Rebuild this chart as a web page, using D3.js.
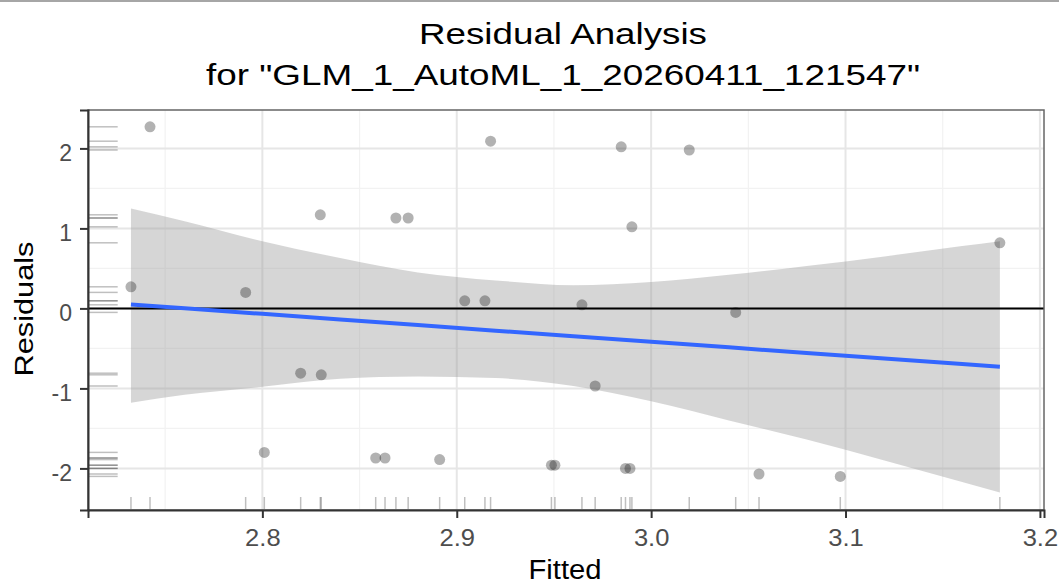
<!DOCTYPE html>
<html>
<head>
<meta charset="utf-8">
<script src="https://cdn.jsdelivr.net/npm/d3@7"></script>
<style>
  html, body { margin: 0; padding: 0; background: #ffffff; }
  svg { display: block; font-family: "Liberation Sans", Arial, sans-serif; }
</style>
</head>
<body>
<svg id="chart" width="1059" height="586"></svg>
<script>
// ---- data ----
const fitted = [2.7324, 2.7422, 2.7914, 2.8010, 2.8197, 2.8298, 2.8303, 2.8583, 2.8631, 2.8687,
                2.8750, 2.8912, 2.9041, 2.9145, 2.9174, 2.9487, 2.9505, 2.9644, 2.9712, 2.9846,
                2.9868, 2.9891, 2.9901, 3.0196, 3.0435, 3.0555, 3.0973, 3.1794];
const residuals = [0.27, 2.27, 0.20, -1.80, -0.81, 1.17, -0.83, -1.87, -1.87, 1.13,
                   1.13, -1.89, 0.095, 0.095, 2.09, -1.96, -1.96, 0.045, -0.97, 2.02,
                   -2.00, -2.00, 1.02, 1.98, -0.05, -2.07, -2.10, 0.82];

// linear smoother with confidence band
const bandX    = [2.7324, 2.76, 2.80, 2.84, 2.88, 2.92, 2.96, 3.00, 3.04, 3.08, 3.12, 3.16, 3.1794];
const bandFit  = [0.05, 0.002, -0.068, -0.138, -0.208, -0.278, -0.347, -0.417, -0.487, -0.557, -0.627, -0.696, -0.73];
const bandLow  = [-1.18, -1.08, -0.98, -0.88, -0.85, -0.87, -0.97, -1.16, -1.40, -1.64, -1.90, -2.17, -2.30];
const bandHigh = [1.25, 1.09, 0.84, 0.63, 0.45, 0.35, 0.29, 0.33, 0.42, 0.53, 0.65, 0.78, 0.84];

const xTicks = [2.8, 2.9, 3.0, 3.1, 3.2];
const xTickLabels = ["2.8", "2.9", "3.0", "3.1", "3.2"];
const xMinor = [2.75, 2.85, 2.95, 3.05, 3.15];
const yTicks = [-2, -1, 0, 1, 2];
const yTickLabels = ["-2", "-1", "0", "1", "2"];
const yMinor = [-1.5, -0.5, 0.5, 1.5];

const titleLines = ["Residual Analysis", "for \"GLM_1_AutoML_1_20260411_121547\""];
const xTitle = "Fitted";
const yTitle = "Residuals";

// ---- layout ----
const svg = d3.select("#chart");
const P = { left: 88, right: 1044, top: 110, bottom: 510 };

const x = d3.scaleLinear().domain([2.7103, 3.2021]).range([P.left, P.right]);
const y = d3.scaleLinear().domain([-2.52, 2.48]).range([P.bottom, P.top]);

svg.append("rect").attr("width", 1059).attr("height", 586).attr("fill", "#ffffff");
// top separator line
svg.append("line").attr("x1", 0).attr("x2", 1059).attr("y1", 1).attr("y2", 1)
  .attr("stroke", "#a6a6a6").attr("stroke-width", 2);

// title
const titleY = [43.5, 85];
const titleLen = [288, 714];
titleLines.forEach((t, i) => {
  svg.append("text").attr("x", 563).attr("y", titleY[i])
    .attr("text-anchor", "middle").attr("font-size", 29).attr("fill", "#000")
    .attr("textLength", titleLen[i]).attr("lengthAdjust", "spacingAndGlyphs")
    .text(t);
});

const g = svg.append("g");

// grid
g.selectAll(".xminor").data(xMinor).join("line")
  .attr("x1", d => x(d)).attr("x2", d => x(d)).attr("y1", P.top).attr("y2", P.bottom)
  .attr("stroke", "#f2f2f2").attr("stroke-width", 1.2);
g.selectAll(".yminor").data(yMinor).join("line")
  .attr("y1", d => y(d)).attr("y2", d => y(d)).attr("x1", P.left).attr("x2", P.right)
  .attr("stroke", "#f2f2f2").attr("stroke-width", 1.2);
g.selectAll(".xmajor").data(xTicks).join("line")
  .attr("x1", d => x(d)).attr("x2", d => x(d)).attr("y1", P.top).attr("y2", P.bottom)
  .attr("stroke", "#e6e6e6").attr("stroke-width", 2);
g.selectAll(".ymajor").data(yTicks).join("line")
  .attr("y1", d => y(d)).attr("y2", d => y(d)).attr("x1", P.left).attr("x2", P.right)
  .attr("stroke", "#e6e6e6").attr("stroke-width", 2);

// confidence band
const bandData = bandX.map((v, i) => ({ x: v, lo: bandLow[i], hi: bandHigh[i], fit: bandFit[i] }));
g.append("path").datum(bandData)
  .attr("d", d3.area().x(d => x(d.x)).y0(d => y(d.lo)).y1(d => y(d.hi)).curve(d3.curveMonotoneX))
  .attr("fill", "#999999").attr("fill-opacity", 0.4);

// zero line
g.append("line").attr("x1", P.left).attr("x2", P.right).attr("y1", y(0)).attr("y2", y(0))
  .attr("stroke", "#000").attr("stroke-width", 2);

// smoother line
g.append("path").datum(bandData)
  .attr("d", d3.line().x(d => x(d.x)).y(d => y(d.fit)))
  .attr("fill", "none").attr("stroke", "#3366FF").attr("stroke-width", 4);

// rugs
const pts = fitted.map((f, i) => ({ f, r: residuals[i] }));
const rugLenX = 0.03 * (P.right - P.left);
const rugLenY = 0.03 * (P.bottom - P.top);
g.selectAll(".rugy").data(pts).join("line")
  .attr("x1", P.left + 1).attr("x2", P.left + 1 + rugLenX)
  .attr("y1", d => y(d.r)).attr("y2", d => y(d.r))
  .attr("stroke", "#000").attr("stroke-opacity", 0.25).attr("stroke-width", 1.5);
g.selectAll(".rugx").data(pts).join("line")
  .attr("x1", d => x(d.f)).attr("x2", d => x(d.f))
  .attr("y1", P.bottom - 1).attr("y2", P.bottom - 1 - rugLenY)
  .attr("stroke", "#000").attr("stroke-opacity", 0.25).attr("stroke-width", 1.5);

// points
g.selectAll(".pt").data(pts).join("circle")
  .attr("cx", d => x(d.f)).attr("cy", d => y(d.r)).attr("r", 5.5)
  .attr("fill", "#000").attr("fill-opacity", 0.3);

// panel border
g.append("rect").attr("x", P.left).attr("y", P.top)
  .attr("width", P.right - P.left).attr("height", P.bottom - P.top)
  .attr("fill", "none").attr("stroke", "#666").attr("stroke-width", 1.5);

// axes
const yAxis = d3.axisLeft(y).tickValues(yTicks).tickFormat((d, i) => yTickLabels[i])
  .tickSize(8).tickPadding(8);
const gy = svg.append("g").attr("transform", `translate(${P.left},0)`).call(yAxis);
gy.select(".domain").attr("stroke", "#333").attr("stroke-width", 2);
gy.selectAll(".tick line").attr("stroke", "#333").attr("stroke-width", 2);
gy.selectAll(".tick text").attr("font-size", 23).attr("fill", "#4d4d4d")
  .attr("font-family", "Liberation Sans, Arial, sans-serif").attr("dy", "0.52em");

const xAxis = d3.axisBottom(x).tickValues(xTicks).tickFormat((d, i) => xTickLabels[i])
  .tickSize(8).tickPadding(11.5);
const gx = svg.append("g").attr("transform", `translate(0,${P.bottom})`).call(xAxis);
gx.select(".domain").attr("stroke", "#333").attr("stroke-width", 2);
gx.selectAll(".tick line").attr("stroke", "#333").attr("stroke-width", 2);
gx.selectAll(".tick text").attr("font-size", 23).attr("fill", "#4d4d4d")
  .attr("font-family", "Liberation Sans, Arial, sans-serif")
  .attr("textLength", 35.5).attr("lengthAdjust", "spacingAndGlyphs");

// axis titles
svg.append("text").attr("x", 565).attr("y", 579).attr("text-anchor", "middle")
  .attr("font-size", 27).attr("fill", "#000")
  .attr("textLength", 73).attr("lengthAdjust", "spacingAndGlyphs").text(xTitle);
svg.append("text").attr("transform", "translate(33,309) rotate(-90)").attr("text-anchor", "middle")
  .attr("font-size", 26).attr("fill", "#000")
  .attr("textLength", 135).attr("lengthAdjust", "spacingAndGlyphs").text(yTitle);
</script>
</body>
</html>
